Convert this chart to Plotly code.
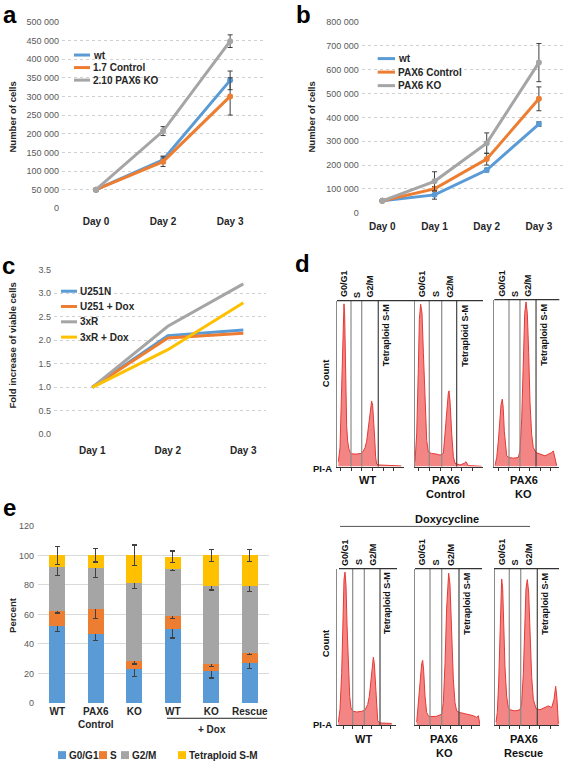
import plotly.graph_objects as go

W, H = 565, 767
def px(x): return x / W
def py(y): return 1 - y / H

FONT = "Liberation Sans"
BLUE, ORANGE, GRAY, GOLD = "#5B9BD5", "#ED7D31", "#A5A5A5", "#FFC000"
ERRC = "#404040"

# ---------------- panel a ----------------
a_days = ["Day 0", "Day 2", "Day 3"]
a_names = ["wt", "1.7 Control", "2.10 PAX6 KO"]
a_wt = [50000, 130000, 343000]
a_ctrl = [50000, 125000, 300000]
a_ko = [50000, 207000, 448000]
a_wt_err = [0, 10000, 25000]
a_ctrl_err = [0, 13000, 50000]
a_ko_err = [0, 12000, 17000]
a_ticks = list(range(0, 500001, 50000))

# ---------------- panel b ----------------
b_days = ["Day 0", "Day 1", "Day 2", "Day 3"]
b_names = ["wt", "PAX6 Control", "PAX6 KO"]
b_wt = [50000, 75000, 179000, 372000]
b_ctrl = [50000, 100000, 225000, 478000]
b_ko = [50000, 132000, 292000, 630000]
b_wt_err = [0, 18000, 8000, 10000]
b_ctrl_err = [0, 10000, 25000, 50000]
b_ko_err = [0, 40000, 43000, 80000]
b_ticks = list(range(0, 800001, 100000))

# ---------------- panel c ----------------
c_days = ["Day 1", "Day 2", "Day 3"]
c_names = ["U251N", "U251 + Dox", "3xR", "3xR + Dox"]
c_u251n = [1.0, 2.10, 2.22]
c_u251dox = [1.0, 2.05, 2.15]
c_3xr = [1.0, 2.30, 3.20]
c_3xrdox = [1.0, 1.80, 2.80]
c_ticks = [0, 0.5, 1.0, 1.5, 2.0, 2.5, 3.0, 3.5]

# ---------------- panel e ----------------
e_labels = ["WT", "PAX6<br>Control", "KO", "WT", "KO", "Rescue"]
e_phases = ["G0/G1", "S", "G2/M", "Tetraploid S-M"]
e_g0g1 = [52, 47, 23, 50, 21.5, 27]
e_s = [10.5, 17, 5.5, 9, 5, 7]
e_g2m = [29.5, 27.5, 53, 31.5, 52.5, 45]
e_tetra = [8, 8.5, 18.5, 8.5, 21, 21]
e_g0g1_err = [3.7, 4.5, 5, 6, 4.5, 3.5]
e_s_err = [1.5, 7, 2, 2, 1.5, 1]
e_g2m_err = [5.5, 6.5, 4, 1, 2.5, 3.5]
e_tetra_err = [6, 4.5, 7, 4, 4, 4]
e_ticks = [0, 20, 40, 60, 80, 100, 120]

# ---------------- panel d (PI-A histograms, relative counts) ----------------
d_wt_ch = [2, 4.5, 7, 8.5, 9.5, 10.4, 11.4, 12.4, 13.4, 14.4, 15.9, 17.9, 19.9, 22, 28, 36, 39.3, 41.8, 44.3,
           46.8, 48.8, 50.2, 51.7, 53.2, 54.7, 56.2, 57.7, 59.2, 62, 70, 78, 86, 96]
d_wt_ct = [3, 11.5, 49, 79, 97, 99, 93, 69, 43, 25, 15.5, 10.5, 8.5, 7.8, 7.6, 8, 9.5, 11.5, 15.5,
           23.5, 31.4, 37.4, 39.8, 37.4, 29.4, 17.5, 5.6, 1.6, 1, 0.8, 0.6, 0.8, 0.4]
d_ctrl_ch = [0, 2.5, 4.9, 6.4, 8.3, 10.3, 12.3, 14.7, 17.2, 19.6, 24.5, 31.9, 36.8, 41.7, 44.1, 46.6, 49, 50,
             51.5, 54, 56.4, 58.8, 66.2, 72.5, 75, 78.4, 98]
d_ctrl_ct = [3, 19.9, 59.6, 89.5, 98.8, 93.4, 69.6, 35.8, 15.9, 8.9, 8, 7.6, 7, 8, 19.9, 35.8, 44.7, 46.1,
             39.8, 19.9, 6, 2, 1, 2, 3, 0.6, 0.2]
d_ko_ch = [1.1, 3.7, 6.2, 8.8, 10.3, 12.3, 13.8, 15.4, 17.5, 19.1, 22.6, 29.2, 36.9, 39.5, 42.2, 44.6, 46.8,
           48.8, 50.8, 52.9, 54.9, 57.5, 60, 64.2, 70.3, 78, 83.1, 88.3, 90.8, 93.4, 96]
d_ko_ct = [0.6, 5.5, 15.4, 29.3, 37.2, 40.8, 35.2, 21.4, 9.5, 6.5, 5.5, 5.1, 5.5, 9.5, 29.3, 68.9, 92.7,
           99.6, 92.7, 68.9, 39.2, 19.4, 11.5, 8.5, 7.5, 6.5, 7.5, 8.5, 9.5, 5.5, 0.6]
d_dwt_ch = [2.3, 5.1, 7.9, 10.2, 11.9, 13.6, 15.3, 17, 19.2, 21.5, 23.7, 26.6, 33.3, 41.8, 47.5, 52, 54.8,
            57.6, 59.9, 61.6, 63.3, 64.9, 66.6, 69, 72.9, 81.4, 92.7]
d_dwt_ct = [1.7, 10.1, 33.2, 68.9, 94.1, 98.7, 89.9, 64.7, 35.3, 18.5, 11.1, 9, 8.4, 8.8, 9.7, 13.2, 18.5,
            29, 39.5, 43.7, 39.5, 26.9, 12.2, 2.7, 1.3, 1.3, 1]
d_dko_ch = [2.6, 5.1, 7.7, 10.3, 11.8, 13.3, 15.4, 17.9, 20.5, 23.1, 33.3, 41, 43.6, 46.2, 48.7, 50.3, 51.8,
            53.8, 56.4, 59, 61.5, 64.1, 68.2, 74.4, 82.1, 89.7, 94.9, 97.4, 100]
d_dko_ct = [2.1, 14.7, 31.4, 39.8, 41.9, 35.6, 18.9, 8.4, 6.3, 5.7, 5.9, 7.3, 14.7, 39.8, 75.5, 92.2, 98,
            90.8, 61.6, 29.4, 14.7, 9.4, 8.4, 7.9, 7.3, 6.3, 5.2, 6.3, 0.4]
d_res_ch = [1.6, 3.6, 5.7, 7.8, 9.4, 10.4, 12, 13.5, 15.6, 18.2, 20.8, 23.4, 31.3, 39.1, 41.7, 44.3, 46.4,
            48.4, 50.5, 52.6, 54.7, 57.3, 59.9, 64.1, 70.3, 78.1, 83.3, 88.5, 92.2, 94.8, 96.9, 99]
d_res_ct = [2.1, 8.4, 27.3, 60.8, 86, 94.3, 88.1, 65, 37.7, 18.9, 11.5, 10.1, 9.4, 10.1, 14.7, 33.5, 65,
            88.1, 93.9, 85.9, 60.8, 31.4, 16.8, 10.9, 10.1, 11.5, 12.6, 11.5, 16.8, 25.2, 16.8, 1]
# gate positions (S start, G2/M start, tetraploid start) on the same channel scale
d_gates_wt = [20.9, 36.9, 61.6]
d_gates_ctrl = [21, 39.3, 61.3]
d_gates_ko = [22.6, 39.5, 64.2]
d_gates_dwt = [26.6, 46.3, 72.9]
d_gates_dko = [23.1, 41.1, 67.7]
d_gates_res = [22.3, 40.2, 66.1]
d_sample_labels = [["WT"], ["PAX6", "Control"], ["PAX6", "KO"], ["WT"], ["PAX6", "KO"], ["PAX6", "Rescue"]]
d_gate_names = ["G0/G1", "S", "G2/M"]

fig = go.Figure()
layout = dict(width=W, height=H, margin=dict(l=0, r=0, t=0, b=0), autosize=False,
              paper_bgcolor="white", plot_bgcolor="white", showlegend=False,
              separators=". ", font=dict(family=FONT, size=9, color="#595959"))
shapes, annots = [], []

def ann(text, x, y, xref="paper", yref="paper", xanchor="center", yanchor="middle", size=10,
        color="#262626", angle=0):
    annots.append(dict(text=text, x=x, y=y, xref=xref, yref=yref, xanchor=xanchor, yanchor=yanchor,
                       showarrow=False, textangle=angle, borderpad=0,
                       font=dict(family=FONT, size=size, color=color)))

def line_axes(n, xd, yd, xr, yr, tickvals, ticktext, ytv, yfmt, standoff):
    x = dict(domain=[px(xd[0]), px(xd[1])], range=xr, tickvals=tickvals, ticktext=ticktext,
             anchor=f"y{n}", showgrid=False, zeroline=False, showline=False, ticks="",
             tickfont=dict(family=FONT, size=10, color="#262626"), ticklabelstandoff=standoff)
    y = dict(domain=[py(yd[1]), py(yd[0])], range=yr, tickvals=ytv, tickformat=yfmt, anchor=f"x{n}",
             showgrid=True, gridcolor="#d0d0d0", griddash="dot", gridwidth=1, zeroline=False,
             showline=False, ticks="", tickfont=dict(family=FONT, size=9, color="#595959"),
             ticklabelstandoff=2)
    return x, y

def b(t): return "<b>" + t + "</b>"

# panel a
xa, ya = line_axes("", (62, 265), (17, 206), [-0.507, 2.52], [0, 500000], list(range(len(a_days))),
                   [b(d) for d in a_days], a_ticks, ",d", 6)
layout["xaxis"], layout["yaxis"] = xa, ya
for name, vals, err, col in zip(a_names, [a_wt, a_ctrl, a_ko], [a_wt_err, a_ctrl_err, a_ko_err],
                                [BLUE, ORANGE, GRAY]):
    fig.add_trace(go.Scatter(x=list(range(len(a_days))), y=vals, name=name, mode="lines+markers",
                             line=dict(color=col, width=3), marker=dict(color=col, size=6),
                             error_y=dict(type="data", array=err, color=ERRC, thickness=1, width=2.5),
                             xaxis="x", yaxis="y"))
# panel b
xb, yb = line_axes(2, (361.7, 565), (17.3, 210.5), [-0.395, 3.5], [0, 800000], list(range(len(b_days))),
                   [b(d) for d in b_days], b_ticks, ",d", 6)
layout["xaxis2"], layout["yaxis2"] = xb, yb
for name, vals, err, col in zip(b_names, [b_wt, b_ctrl, b_ko], [b_wt_err, b_ctrl_err, b_ko_err],
                                [BLUE, ORANGE, GRAY]):
    fig.add_trace(go.Scatter(x=list(range(len(b_days))), y=vals, name=name, mode="lines+markers",
                             line=dict(color=col, width=3), marker=dict(color=col, size=6),
                             error_y=dict(type="data", array=err, color=ERRC, thickness=1, width=2.5),
                             xaxis="x2", yaxis="y2"))
# panel c
xc, yc = line_axes(3, (54, 266), (268.3, 435), [-0.507, 2.30], [0, 3.5], list(range(len(c_days))),
                   [b(d) for d in c_days], c_ticks, ".1f", 9)
layout["xaxis3"], layout["yaxis3"] = xc, yc
for name, vals, col in zip(c_names, [c_u251n, c_u251dox, c_3xr, c_3xrdox], [BLUE, ORANGE, GRAY, GOLD]):
    fig.add_trace(go.Scatter(x=list(range(len(c_days))), y=vals, name=name, mode="lines",
                             line=dict(color=col, width=3), xaxis="x3", yaxis="y3"))

# panel e
layout["xaxis4"] = dict(domain=[px(38), px(269)], range=[-0.5, 5.5], tickvals=list(range(len(e_labels))),
                        anchor="y4", ticktext=[b(t) for t in e_labels], showgrid=False, zeroline=False,
                        showline=False, ticks="", tickfont=dict(family=FONT, size=10, color="#262626"),
                        ticklabelstandoff=1)
layout["yaxis4"] = dict(domain=[py(707.3), py(527.7)], range=[0, 120], tickvals=e_ticks, showgrid=True,
                        anchor="x4", gridcolor="#d9d9d9", gridwidth=1, zeroline=False, showline=False,
                        ticks="", tickfont=dict(family=FONT, size=9, color="#595959"), ticklabelstandoff=3)
layout["barmode"] = "stack"
for name, vals, err, col in zip(e_phases, [e_g0g1, e_s, e_g2m, e_tetra],
                                [e_g0g1_err, e_s_err, e_g2m_err, e_tetra_err], [BLUE, ORANGE, GRAY, GOLD]):
    fig.add_trace(go.Bar(x=list(range(len(e_labels))), y=vals, name=name, width=0.42,
                         marker=dict(color=col, line=dict(width=0)),
                         error_y=dict(type="data", array=err, color=ERRC, thickness=1.2, width=2.5),
                         xaxis="x4", yaxis="y4"))

# panel d histograms
hists = [
    (d_wt_ch, d_wt_ct, d_gates_wt, (337, 404), (299.5, 467.7)),
    (d_ctrl_ch, d_ctrl_ct, d_gates_ctrl, (415, 483), (299.5, 467.7)),
    (d_ko_ch, d_ko_ct, d_gates_ko, (494.3, 559.3), (298.5, 467.7)),
    (d_dwt_ch, d_dwt_ct, d_gates_dwt, (337, 396), (571, 729.5)),
    (d_dko_ch, d_dko_ct, d_gates_dko, (415, 480), (571, 730)),
    (d_res_ch, d_res_ct, d_gates_res, (495, 559), (571, 730)),
]
for i, (ch, ct, gates, xd, yd) in enumerate(hists):
    n = 5 + i
    layout[f"xaxis{n}"] = dict(domain=[px(xd[0]), px(xd[1])], range=[0, 100], showgrid=False, zeroline=False,
                               anchor=f"y{n}", showline=True, linecolor="#333", linewidth=1, ticks="outside",
                               ticklen=3, tickcolor="#333", tick0=gates[0], dtick=16, showticklabels=False)
    layout[f"yaxis{n}"] = dict(domain=[py(yd[1]), py(yd[0])], range=[0, 101], showgrid=False, zeroline=False,
                               anchor=f"x{n}", showline=True, linecolor="#8a8a8a", linewidth=1.2, ticks="",
                               showticklabels=False)
    fig.add_trace(go.Scatter(x=ch, y=ct, mode="lines", fill="tozeroy", fillcolor="rgba(242,112,112,0.85)",
                             line=dict(color="#E53935", width=1), xaxis=f"x{n}", yaxis=f"y{n}"))
    for k, g in enumerate(gates):
        shapes.append(dict(type="line", xref=f"x{n}", yref=f"y{n} domain", x0=g, x1=g, y0=0, y1=1,
                           line=dict(color="#444" if k == 2 else "#8a8a8a", width=1.2)))
    centers = [gates[0] / 2, (gates[0] + gates[1]) / 2, gates[1] + (gates[2] - gates[1]) / 2]
    for nm, c in zip(d_gate_names, centers):
        ann(b(nm), c, py(yd[0] - 2), xref=f"x{n}", yanchor="bottom", size=9, color="#111", angle=-90)
    ann(b("Tetraploid S-M"), gates[2] + 11, py(yd[0] + 3), xref=f"x{n}", yanchor="top", size=9,
        color="#111", angle=-90)
    for j, t in enumerate(d_sample_labels[i]):
        ann(b(t), 0.45, py(yd[1] + 14 + 14 * j), xref=f"x{n} domain", size=11, color="#111")

for x0, x1, y in [(337, 483, 299.5), (494.3, 559.3, 298.5), (339, 397, 571), (415, 482, 571), (494, 559, 571)]:
    shapes.append(dict(type="line", xref="paper", yref="paper", x0=px(x0), x1=px(x1), y0=py(y), y1=py(y),
                       line=dict(color="#333", width=1.2)))
shapes.append(dict(type="line", xref="paper", yref="paper", x0=px(340), x1=px(530), y0=py(528.3), y1=py(528.3),
                   line=dict(color="#555", width=1)))
ann(b("Doxycycline"), px(446.7), py(520.5), size=11, color="#111")
for yc_, yb_ in [(373, 469.3), (646.7, 729.5)]:
    ann(b("Count"), px(325), py(yc_), size=9.5, color="#111", angle=-90)
    ann(b("PI-A"), px(333), py(yb_), xanchor="right", size=9.5, color="#111")

def legend(names, cols, x0, x1, ytop, dy):
    for i, (nm, col) in enumerate(zip(names, cols)):
        yy = ytop + dy * i
        shapes.append(dict(type="line", xref="paper", yref="paper", x0=px(x0), x1=px(x1), y0=py(yy), y1=py(yy),
                           line=dict(color=col, width=3)))
        ann(b(nm), px(x1 + 1.5), py(yy), xanchor="left", size=10)
legend(a_names, [BLUE, ORANGE, GRAY], 74, 90, 50.7, 12.7)
legend(b_names, [BLUE, ORANGE, GRAY], 377.7, 395, 54.3, 13.7)
legend(c_names, [BLUE, ORANGE, GRAY, GOLD], 61, 77, 290, 15.5)

ex = [(62, 68), (103, 109), (125, 131), (182, 188)]
for (sx, tx), nm, col in zip(ex, e_phases, [BLUE, ORANGE, GRAY, GOLD]):
    shapes.append(dict(type="rect", xref="paper", yref="paper", x0=px(sx - 4), x1=px(sx + 4), y0=py(764),
                       y1=py(756), fillcolor=col, line=dict(width=0)))
    ann(b(nm), px(tx), py(760), xanchor="left", size=10)
shapes.append(dict(type="line", xref="paper", yref="paper", x0=px(167), x1=px(267), y0=py(722.7), y1=py(722.7),
                   line=dict(color="#222", width=1)))
ann(b("+ Dox"), px(212), py(734), size=10)

for t, x, y in [("Number of cells", 13, 114), ("Number of cells", 312, 114),
                ("Fold increase of viable cells", 13, 345), ("Percent", 13, 618)]:
    ann(b(t), px(x), py(y), size=9.5, angle=-90)
for t, x, y in [("a", 10, 10), ("b", 303, 10), ("c", 8, 264), ("d", 302, 262), ("e", 9, 509)]:
    ann(b(t), px(x), py(y), size=24, color="#000")

layout["shapes"] = shapes
layout["annotations"] = annots
fig.update_layout(**layout)
fig.write_html("out.html", post_script="document.body.style.margin='0';",
               config={"displayModeBar": False})
